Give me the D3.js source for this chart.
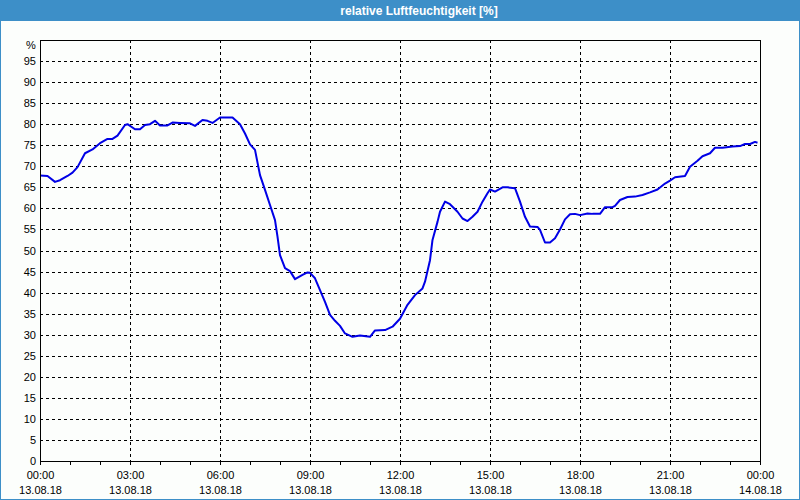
<!DOCTYPE html>
<html>
<head>
<meta charset="utf-8">
<script src="https://cdn.jsdelivr.net/npm/d3@7"></script>
<style>
	body { margin: 0; background: #fcfefc; }
	#chart { width: 800px; height: 500px; }
	.axisLabels { font-family: "Liberation Sans", Arial, sans-serif; font-size: 11px; fill: #000; }
	.title { font-family: "Liberation Sans", Arial, sans-serif; font-size: 12px; font-weight: bold; fill: #fff; }
	.grid { stroke: #000; stroke-width: 1; stroke-dasharray: 3,3; shape-rendering: crispEdges; }
	.frame { stroke: #000; stroke-width: 1; fill: none; shape-rendering: crispEdges; }
	.lineFeuchte { fill: none; stroke: #0000e6; stroke-width: 2; stroke-linejoin: round; }
</style>
</head>
<body>
<div id="chart"></div>
<script>
// Messzeiten (13.08.18) und Werte in %
var zeiten = ["00:00","00:15","00:30","00:40","00:55","01:05","01:15","01:30","01:45","02:00",
	"02:15","02:25","02:35","02:50","02:55","03:10","03:20","03:30","03:40","03:50",
	"04:00","04:15","04:25","04:40","05:00","05:10","05:25","05:35","05:45","06:00",
	"06:25","06:40","06:50","07:00","07:10","07:20","07:30","07:40","07:50","07:55",
	"08:00","08:10","08:20","08:30","08:45","08:55","09:00","09:10","09:20","09:30",
	"09:40","09:50","10:00","10:10","10:25","10:40","11:00","11:10","11:30","11:45",
	"12:00","12:15","12:30","12:45","12:50","13:00","13:05","13:15","13:20","13:30",
	"13:40","13:55","14:05","14:15","14:25","14:35","14:45","14:55","15:00","15:10",
	"15:25","15:35","15:50","16:00","16:10","16:20","16:35","16:40","16:50","17:00",
	"17:10","17:20","17:30","17:40","17:50","18:00","18:15","18:25","18:40","18:50",
	"19:05","19:10","19:20","19:35","19:50","20:05","20:20","20:35","20:50","21:00",
	"21:10","21:30","21:40","21:55","22:05","22:20","22:30","22:45","23:05","23:20",
	"23:30","23:40","23:50","23:55"];
var feuchte = [67.8,67.7,66.3,66.7,67.7,68.5,69.8,73.1,74.0,75.5,
	76.5,76.5,77.3,79.8,80.0,78.8,78.8,79.8,80.0,80.8,
	79.7,79.7,80.4,80.3,80.2,79.6,81.0,80.8,80.3,81.6,
	81.6,80.0,77.8,75.2,73.9,67.9,64.4,60.8,57.2,53.3,
	48.9,45.8,45.1,43.2,44.2,44.8,44.7,43.4,40.6,37.8,
	34.7,33.3,32.1,30.3,29.5,29.8,29.5,31.0,31.1,31.9,
	33.8,37.1,39.4,41.0,42.6,47.7,52.5,56.8,59.2,61.6,
	61.0,59.2,57.6,57.0,58.0,59.2,61.6,63.6,64.5,64.0,
	65.0,65.0,64.8,61.6,58.0,55.7,55.6,54.9,51.9,51.9,
	52.9,55.0,57.4,58.6,58.7,58.4,58.8,58.7,58.7,60.3,
	60.3,60.6,62.0,62.7,62.8,63.2,63.8,64.5,65.9,66.6,
	67.4,67.7,69.9,71.3,72.4,73.1,74.4,74.4,74.7,74.8,
	75.3,75.3,75.8,75.6];
var yTicks = [0,5,10,15,20,25,30,35,40,45,50,55,60,65,70,75,80,85,90,95];
var xTickZeit = ["00:00","03:00","06:00","09:00","12:00","15:00","18:00","21:00","00:00"];
var xTickDatum = ["13.08.18","13.08.18","13.08.18","13.08.18","13.08.18","13.08.18","13.08.18","13.08.18","14.08.18"];
var titel = "relative Luftfeuchtigkeit [%]";

var margin = {top: 40, right: 40, bottom: 39, left: 40};
var width = 800 - margin.left - margin.right;
var height = 500 - margin.top - margin.bottom;

var parseTime = d3.timeParse("%d.%m.%y %H:%M");
var start = parseTime("13.08.18 00:00");
var ende = parseTime("14.08.18 00:00");

var data = zeiten.map(function(z, i) {
	return {time: parseTime("13.08.18 " + z), value: feuchte[i]};
});

var x = d3.scaleTime().domain([start, ende]).range([0, width]);
var y = d3.scaleLinear().domain([0, 100]).range([height, 0]);

var svg = d3.select("#chart").append("svg")
	.attr("width", 800)
	.attr("height", 500);

// Hintergrund und Rahmen
svg.append("rect")
	.attr("x", 0.5).attr("y", 0.5)
	.attr("width", 799).attr("height", 499)
	.attr("fill", "#fcfefc")
	.attr("stroke", "#3d8fc8");

// Titelleiste
svg.append("rect")
	.attr("x", 0).attr("y", 0)
	.attr("width", 800).attr("height", 21)
	.attr("fill", "#3d8fc8");

svg.append("text")
	.attr("class", "title")
	.attr("x", 419)
	.attr("y", 14.5)
	.style("text-anchor", "middle")
	.text(titel);

var g = svg.append("g")
	.attr("transform", "translate(" + margin.left + "," + margin.top + ")");

// horizontale Gitterlinien
g.selectAll(".hgrid")
	.data(yTicks.filter(function(d) { return d > 0; }))
	.enter().append("line")
	.attr("class", "grid")
	.attr("x1", 0).attr("x2", width)
	.attr("y1", function(d) { return Math.round(y(d)) + 0.5; })
	.attr("y2", function(d) { return Math.round(y(d)) + 0.5; });

// vertikale Gitterlinien (alle 3 Stunden)
var majorTicks = d3.timeHour.every(3).range(start, d3.timeHour.offset(ende, 1));
g.selectAll(".vgrid")
	.data(majorTicks.slice(1, -1))
	.enter().append("line")
	.attr("class", "grid")
	.attr("y1", 0).attr("y2", height)
	.attr("x1", function(d) { return Math.round(x(d)) + 0.5; })
	.attr("x2", function(d) { return Math.round(x(d)) + 0.5; });

// Linie
var valueline = d3.line()
	.x(function(d) { return x(d.time); })
	.y(function(d) { return y(d.value); });

g.append("path")
	.datum(data)
	.attr("class", "lineFeuchte")
	.attr("d", valueline);

// Rahmen des Diagramms
g.append("rect")
	.attr("class", "frame")
	.attr("x", 0.5).attr("y", 0.5)
	.attr("width", width).attr("height", height);

// X-Achse mit Stunden-Ticks
var xAxis = g.append("g")
	.attr("class", "xaxis")
	.attr("transform", "translate(0," + (height + 0.5) + ")")
	.call(d3.axisBottom(x)
		.ticks(d3.timeHour.every(1))
		.tickSize(3)
		.tickFormat(""));
xAxis.select(".domain").remove();
xAxis.selectAll("line").attr("stroke", "#000").attr("shape-rendering", "crispEdges");

var xLab = g.selectAll(".xlab")
	.data(majorTicks)
	.enter().append("text")
	.attr("class", "axisLabels")
	.attr("x", function(d) { return x(d) + 0.5; })
	.style("text-anchor", "middle");
xLab.append("tspan")
	.attr("x", function(d) { return x(d) + 0.5; })
	.attr("y", height + 18)
	.text(function(d, i) { return xTickZeit[i]; });
xLab.append("tspan")
	.attr("x", function(d) { return x(d) + 0.5; })
	.attr("y", height + 33)
	.text(function(d, i) { return xTickDatum[i]; });

// Y-Achse
var yAxis = g.append("g")
	.attr("class", "yaxis")
	.call(d3.axisLeft(y)
		.tickValues(yTicks)
		.tickSize(0)
		.tickPadding(4));
yAxis.select(".domain").remove();
yAxis.selectAll("text").attr("class", "axisLabels").attr("fill", null);

g.append("text")
	.attr("class", "axisLabels")
	.attr("x", -9)
	.attr("y", 9)
	.style("text-anchor", "middle")
	.text("%");
</script>
</body>
</html>
